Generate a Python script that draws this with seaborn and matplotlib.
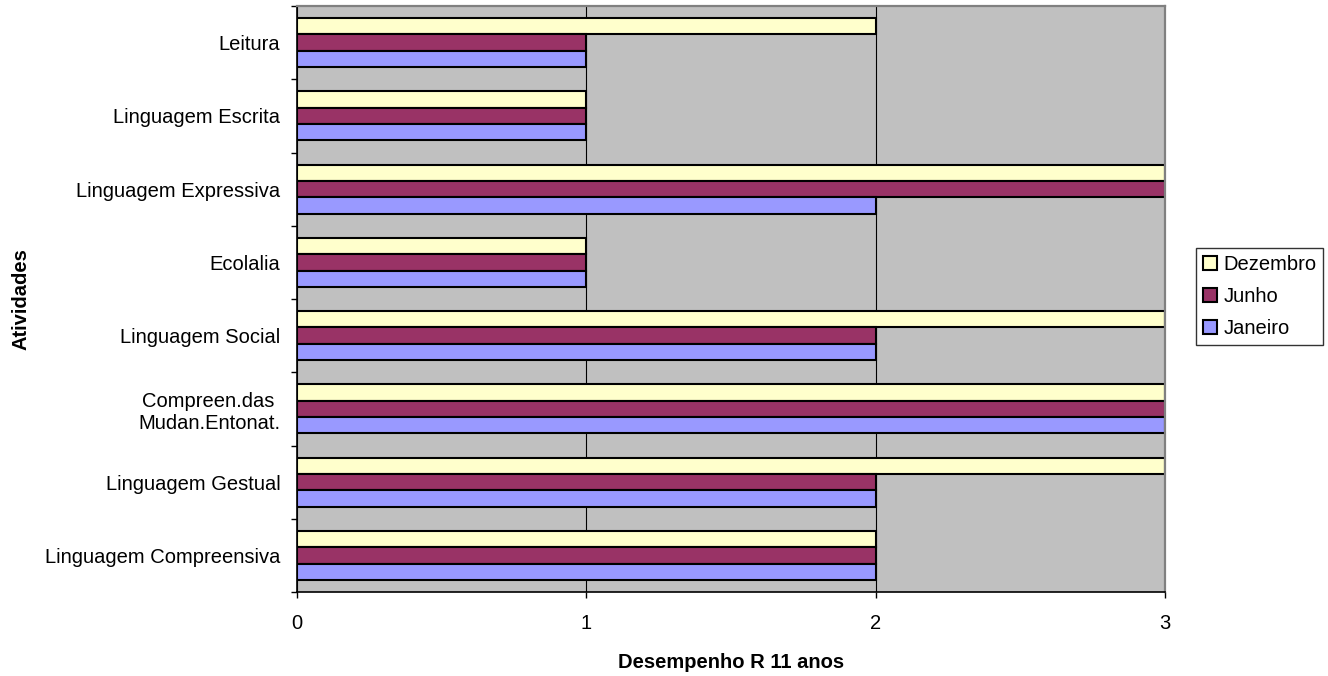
import matplotlib
matplotlib.use("Agg")
import matplotlib.pyplot as plt
import pandas as pd
import seaborn as sns
from matplotlib.ticker import FixedLocator

# Data (top to bottom as shown)
atividades = ['Leitura', 'Linguagem Escrita', 'Linguagem Expressiva', 'Ecolalia',
              'Linguagem Social', 'Compreen.das \nMudan.Entonat.', 'Linguagem Gestual',
              'Linguagem Compreensiva']
janeiro = [1, 1, 2, 1, 2, 3, 2, 2]
junho = [1, 1, 3, 1, 2, 3, 2, 2]
dezembro = [2, 1, 3, 1, 3, 3, 3, 2]
meses = ['Dezembro', 'Junho', 'Janeiro']
cores = {'Dezembro': '#FFFFCC', 'Junho': '#993366', 'Janeiro': '#9999FF'}

rows = []
for i, a in enumerate(atividades):
    rows.append({'Atividade': a, 'Mes': 'Dezembro', 'Valor': dezembro[i]})
    rows.append({'Atividade': a, 'Mes': 'Junho', 'Valor': junho[i]})
    rows.append({'Atividade': a, 'Mes': 'Janeiro', 'Valor': janeiro[i]})
df = pd.DataFrame(rows)

sns.set_theme(style="white")
plt.rcParams['font.family'] = ['Liberation Sans', 'DejaVu Sans']
plt.rcParams['text.color'] = 'black'
plt.rcParams['axes.labelcolor'] = 'black'
plt.rcParams['xtick.color'] = 'black'
plt.rcParams['ytick.color'] = 'black'

FS = 14.5

fig = plt.figure(figsize=(13.28, 6.76), dpi=100)
ax = fig.add_axes([297 / 1328, 84 / 676, 868 / 1328, 586 / 676])
ax.set_facecolor('#C0C0C0')

sns.barplot(data=df, x='Valor', y='Atividade', hue='Mes', order=atividades,
            hue_order=meses, palette=cores, saturation=1, orient='h', width=0.67,
            edgecolor='black', linewidth=1.5, ax=ax)

ax.set_xlim(0, 3)
ax.set_ylim(len(atividades) - 0.5, -0.5)
ax.set_xticks([0, 1, 2, 3])
ax.xaxis.grid(True, color='black', linewidth=0.8)
ax.set_axisbelow(True)

ax.tick_params(axis='x', which='major', direction='out', length=4, width=1,
               color='black', labelsize=FS, pad=12, bottom=True)
ax.tick_params(axis='y', which='major', length=0, labelsize=FS, pad=12)
ax.yaxis.set_minor_locator(FixedLocator([i - 0.5 for i in range(len(atividades) + 1)]))
ax.tick_params(axis='y', which='minor', direction='out', length=4, width=1,
               color='black', left=True)

for s in ['left', 'bottom']:
    ax.spines[s].set_color('black')
    ax.spines[s].set_linewidth(1.2)
for s in ['top', 'right']:
    ax.spines[s].set_color('#808080')
    ax.spines[s].set_linewidth(1.6)

ax.set_xlabel('Desempenho R 11 anos', fontsize=FS, fontweight='bold', labelpad=14)
ax.set_ylabel('Atividades', fontsize=FS, fontweight='bold')
ax.yaxis.set_label_coords((21 - 297) / 868, 0.5)
ax.yaxis.label.set_verticalalignment('center')

handles, labels = ax.get_legend_handles_labels()
leg = ax.legend(handles, labels, loc='upper left', bbox_to_anchor=(1196 / 1328, 1 - 248 / 676),
                bbox_transform=fig.transFigure, frameon=True, fancybox=False,
                edgecolor='black', fontsize=FS, handlelength=0.7, handleheight=0.7,
                handletextpad=0.3, labelspacing=0.65, borderpad=0.35, borderaxespad=0)
leg.get_frame().set_linewidth(1.0)

fig.savefig('out.png', dpi=100)
